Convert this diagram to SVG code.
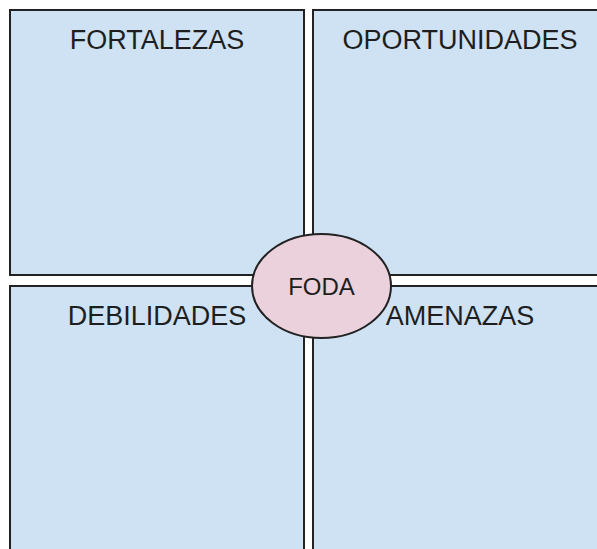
<svg xmlns="http://www.w3.org/2000/svg" width="597" height="549" viewBox="0 0 597 549">
<style>
.box{fill:#cfe2f3;stroke:#222;stroke-width:2}
.lbl{font-family:"Liberation Sans",Arial,sans-serif;font-size:27px;fill:#1e1e1e;text-anchor:middle}
</style>
<rect width="597" height="549" fill="#ffffff"/>
<g id="fortalezas"><rect class="box" x="10" y="10" width="294" height="265"/><text class="lbl" x="157" y="49">FORTALEZAS</text></g>
<g id="oportunidades"><rect class="box" x="313" y="10" width="294" height="265"/><text class="lbl" x="460" y="49">OPORTUNIDADES</text></g>
<g id="debilidades"><rect class="box" x="10" y="286" width="294" height="280"/><text class="lbl" x="157" y="325">DEBILIDADES</text></g>
<g id="amenazas"><rect class="box" x="313" y="286" width="294" height="280"/><text class="lbl" x="460" y="325">AMENAZAS</text></g>
<g id="foda"><ellipse cx="321.5" cy="286" rx="69.5" ry="52" fill="#ead1dc" stroke="#222" stroke-width="2"/><text class="lbl" x="321.5" y="295" style="font-size:24px">FODA</text></g>
<g id="connectors"></g>
</svg>
